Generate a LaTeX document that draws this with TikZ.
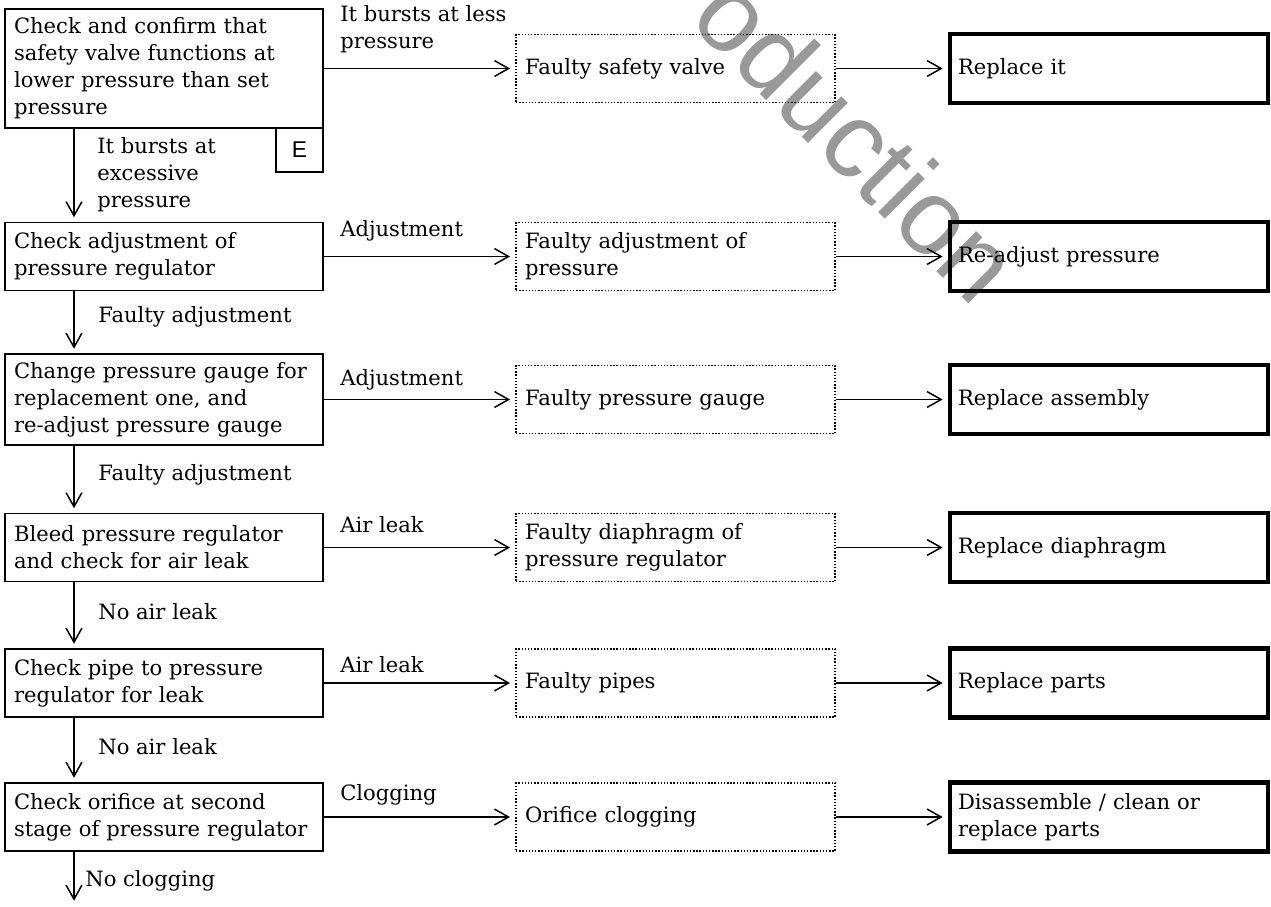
\documentclass[tikz,border=0pt]{standalone}
\usepackage{fontspec}
\setmainfont{DejaVu Serif}
\newfontfamily\marksans{Liberation Sans}
\usetikzlibrary{arrows.meta,positioning}

\begin{document}
\begin{tikzpicture}[
  x=0.02cm, y=-0.02cm,
  font=\fontsize{12}{15.4}\selectfont,
  >={Straight Barb[length=8pt,width=9pt]},
  check/.style={draw, line width=1.1pt, text width=6.0cm, minimum height=#1, inner xsep=0.18cm, inner ysep=0pt, outer sep=0pt, align=left},
  check/.default=1.36cm,
  tag/.style={draw, line width=1.1pt, minimum width=0.94cm, minimum height=0.88cm, inner sep=0pt, outer sep=0pt, font=\marksans\fontsize{13}{13}\selectfont},
  cause/.style={draw, densely dotted, line width=0.8pt, text width=6.02cm, minimum height=1.36cm, inner xsep=0.18cm, inner ysep=0pt, align=left},
  fix/.style={draw, line width=2.4pt, text width=6.04cm, minimum height=1.38cm, inner xsep=0.16cm, inner ysep=0pt, align=left},
  flow/.style={->, line width=0.85pt, shorten >=3pt},
  lbl/.style={anchor=west, inner sep=0pt, align=left},
]
\useasboundingbox (0,0) rectangle (1271,906);
% ---- watermark ----
\node[rotate=-45, text=black!40, font=\marksans\fontsize{61}{61}\selectfont] (mark) at (858,138) {oduction};

% ---- checks ----
\node[check=2.38cm] (c1) at (164,68.5)  {Check and confirm that\\safety valve functions at\\lower pressure than set\\pressure};
\node[tag, anchor=north east] (e) at (c1.south east) {E};
\node[check]        (c2) at (164,256.5) {Check adjustment of\\pressure regulator};
\node[check=1.82cm] (c3) at (164,399.5) {Change pressure gauge for\\replacement one, and\\re-adjust pressure gauge};
\node[check]        (c4) at (164,547.5) {Bleed pressure regulator\\and check for air leak};
\node[check]        (c5) at (164,683)   {Check pipe to pressure\\regulator for leak};
\node[check]        (c6) at (164,817)   {Check orifice at second\\stage of pressure regulator};

% ---- causes ----
\node[cause] (f1) at (675.5,68.5)  {Faulty safety valve};
\node[cause] (f2) at (675.5,256.5) {Faulty adjustment of\\pressure};
\node[cause] (f3) at (675.5,399.5) {Faulty pressure gauge};
\node[cause] (f4) at (675.5,547.5) {Faulty diaphragm of\\pressure regulator};
\node[cause] (f5) at (675.5,683)   {Faulty pipes};
\node[cause] (f6) at (675.5,817)   {Orifice clogging};

% ---- remedies ----
\node[fix] (r1) at (1109,68.5)  {Replace it};
\node[fix] (r2) at (1109,256.5) {Re-adjust pressure};
\node[fix] (r3) at (1109,399.5) {Replace assembly};
\node[fix] (r4) at (1109,547.5) {Replace diaphragm};
\node[fix] (r5) at (1109,683)   {Replace parts};
\node[fix] (r6) at (1109,817)   {Disassemble / clean or\\replace parts};

% ---- branch labels ----
\node[lbl] (l1) at (340,29)  {It bursts at less\\pressure};
\node[lbl] (l2) at (340,231) {Adjustment};
\node[lbl] (l3) at (340,380) {Adjustment};
\node[lbl] (l4) at (340,525) {Air leak};
\node[lbl] (l5) at (340,665) {Air leak};
\node[lbl] (l6) at (340,795) {Clogging};
\node[lbl] (d1) at (97,175)  {It bursts at\\excessive\\pressure};
\node[lbl] (d2) at (98,317)  {Faulty adjustment};
\node[lbl] (d3) at (98,475)  {Faulty adjustment};
\node[lbl] (d4) at (98,612)  {No air leak};
\node[lbl] (d5) at (98,747)  {No air leak};
\node[lbl] (d6) at (85,881)  {No clogging};

% ---- flows ----
\foreach \n in {1,...,6} {
  \draw[flow] (c\n) -- (f\n);
  \draw[flow] (f\n) -- (r\n);
}
\coordinate (ax) at (74,0);
\coordinate (out) at (74,906);
\foreach \a/\b in {c1/c2, c2/c3, c3/c4, c4/c5, c5/c6}
  \draw[flow] (\a.south -| ax) -- (\b.north -| ax);
\draw[flow] (c6.south -| ax) -- (out);
\end{tikzpicture}
\end{document}
